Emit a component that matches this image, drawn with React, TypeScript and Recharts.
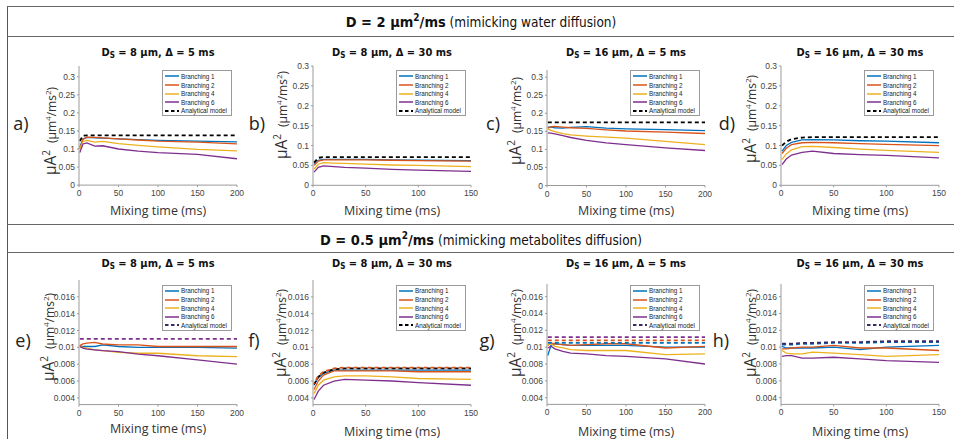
import React from 'react';
import { LineChart, Line, XAxis, YAxis } from 'recharts';

// mixing times (ms)
const T200 = [1, 5, 10, 20, 30, 50, 75, 100, 150, 200];
const T150 = [1, 5, 10, 20, 30, 50, 75, 100, 150];

const xTicks200 = [0, 50, 100, 150, 200];
const xTicks150 = [0, 50, 100, 150];

const yTicksWater = [0, 0.05, 0.1, 0.15, 0.2, 0.25, 0.3];
const yLabelsWater = ['0', '0.05', '0.1', '0.15', '0.2', '0.25', '0.3'];
const yTicksMetab = [0.004, 0.006, 0.008, 0.01, 0.012, 0.014, 0.016];
const yLabelsMetab = ['0.004', '0.006', '0.008', '0.01', '0.012', '0.014', '0.016'];

const seriesNames = ['Branching 1', 'Branching 2', 'Branching 4', 'Branching 6'];
const seriesColors = ['#0072BD', '#D95319', '#EDB120', '#7E2F8E'];

// a) D = 2, Ds = 8 um, delta = 5 ms
const aB1 = [0.105, 0.128, 0.132, 0.131, 0.13, 0.128, 0.126, 0.124, 0.122, 0.12];
const aB2 = [0.1, 0.127, 0.133, 0.132, 0.131, 0.128, 0.125, 0.122, 0.119, 0.114];
const aB4 = [0.1, 0.121, 0.124, 0.119, 0.121, 0.115, 0.11, 0.106, 0.099, 0.095];
const aB6 = [0.09, 0.114, 0.117, 0.108, 0.109, 0.1, 0.094, 0.09, 0.085, 0.073];
const aAn = [0.122, 0.137, 0.138, 0.138, 0.138, 0.138, 0.138, 0.138, 0.138, 0.138];

// b) D = 2, Ds = 8 um, delta = 30 ms
const bB1 = [0.052, 0.063, 0.065, 0.065, 0.065, 0.065, 0.064, 0.063, 0.062];
const bB2 = [0.05, 0.061, 0.064, 0.064, 0.064, 0.064, 0.063, 0.062, 0.061];
const bB4 = [0.041, 0.053, 0.057, 0.056, 0.055, 0.053, 0.051, 0.05, 0.047];
const bB6 = [0.033, 0.045, 0.049, 0.047, 0.045, 0.043, 0.04, 0.038, 0.035];
const bAn = [0.057, 0.069, 0.071, 0.071, 0.071, 0.071, 0.071, 0.071, 0.071];

// c) D = 2, Ds = 16 um, delta = 5 ms
const cB1 = [0.162, 0.162, 0.16, 0.159, 0.161, 0.163, 0.159, 0.157, 0.155, 0.152];
const cB2 = [0.159, 0.163, 0.164, 0.162, 0.16, 0.158, 0.154, 0.151, 0.148, 0.144];
const cB4 = [0.157, 0.153, 0.149, 0.144, 0.14, 0.137, 0.134, 0.131, 0.122, 0.113];
const cB6 = [0.146, 0.145, 0.143, 0.138, 0.133, 0.125, 0.118, 0.113, 0.104, 0.097];
const cAn = [0.175, 0.175, 0.175, 0.175, 0.175, 0.175, 0.175, 0.175, 0.175, 0.175];

// d) D = 2, Ds = 16 um, delta = 30 ms
const dB1 = [0.086, 0.1, 0.108, 0.114, 0.115, 0.114, 0.112, 0.111, 0.107];
const dB2 = [0.08, 0.093, 0.102, 0.107, 0.108, 0.107, 0.105, 0.103, 0.1];
const dB4 = [0.065, 0.079, 0.089, 0.097, 0.098, 0.095, 0.091, 0.088, 0.083];
const dB6 = [0.052, 0.066, 0.076, 0.083, 0.086, 0.08, 0.077, 0.075, 0.069];
const dAn = [0.1, 0.11, 0.116, 0.12, 0.121, 0.121, 0.121, 0.121, 0.121];

// e) D = 0.5, Ds = 8 um, delta = 5 ms
const eB1 = [0.0102, 0.0101, 0.0101, 0.0101, 0.0103, 0.0101, 0.01, 0.01, 0.01, 0.0099];
const eB2 = [0.0102, 0.0104, 0.0105, 0.0106, 0.0104, 0.0103, 0.0103, 0.0101, 0.0101, 0.0101];
const eB4 = [0.0101, 0.01, 0.0099, 0.0097, 0.0096, 0.0094, 0.0093, 0.0093, 0.009, 0.0089];
const eB6 = [0.0101, 0.0099, 0.0098, 0.0097, 0.0096, 0.0095, 0.0092, 0.009, 0.0085, 0.008];
const eAn = [0.011, 0.011, 0.011, 0.011, 0.011, 0.011, 0.011, 0.011, 0.011, 0.011];

// f) D = 0.5, Ds = 8 um, delta = 30 ms
const fB1 = [0.0055, 0.0064, 0.0069, 0.0073, 0.0073, 0.0073, 0.0073, 0.0073, 0.0073];
const fB2 = [0.005, 0.006, 0.0067, 0.0072, 0.0072, 0.0072, 0.0072, 0.0071, 0.0071];
const fB4 = [0.0045, 0.0055, 0.0061, 0.0065, 0.0066, 0.0066, 0.0065, 0.0063, 0.0062];
const fB6 = [0.0038, 0.0048, 0.0055, 0.006, 0.0062, 0.0061, 0.006, 0.0058, 0.0055];
const fAnOrange = [0.0057, 0.0066, 0.0071, 0.0075, 0.0076, 0.0076, 0.0076, 0.0076, 0.0076];
const fAn = [0.0056, 0.0065, 0.007, 0.0074, 0.0075, 0.0075, 0.0075, 0.0075, 0.0075];

// g) D = 0.5, Ds = 16 um, delta = 5 ms
const gB1 = [0.009, 0.0102, 0.0104, 0.0103, 0.0102, 0.0102, 0.0102, 0.0102, 0.01, 0.01];
const gB2 = [0.0102, 0.0105, 0.0104, 0.0103, 0.0102, 0.0103, 0.0104, 0.0104, 0.0099, 0.0101];
const gB4 = [0.0103, 0.0104, 0.0101, 0.0099, 0.0097, 0.0096, 0.0096, 0.0096, 0.0091, 0.0092];
const gB6 = [0.0099, 0.0101, 0.0098, 0.0095, 0.0093, 0.0092, 0.009, 0.0089, 0.0086, 0.008];
const gAnBlue = [0.0105, 0.0105, 0.0105, 0.0105, 0.0105, 0.0105, 0.0105, 0.0105, 0.0105, 0.0105];
const gAnOrange = [0.0108, 0.0108, 0.0108, 0.0108, 0.0108, 0.0108, 0.0108, 0.0108, 0.0108, 0.0108];
const gAnPurple = [0.0112, 0.0112, 0.0112, 0.0112, 0.0112, 0.0112, 0.0112, 0.0112, 0.0112, 0.0112];

// h) D = 0.5, Ds = 16 um, delta = 30 ms
const hB1 = [0.0101, 0.0099, 0.0099, 0.0099, 0.0099, 0.01, 0.0097, 0.01, 0.0102];
const hB2 = [0.0098, 0.0098, 0.0099, 0.01, 0.01, 0.0102, 0.0099, 0.0099, 0.0096];
const hB4 = [0.0096, 0.0093, 0.0092, 0.0092, 0.0094, 0.0093, 0.0091, 0.0089, 0.0091];
const hB6 = [0.0089, 0.009, 0.009, 0.0087, 0.0087, 0.0088, 0.0086, 0.0084, 0.0082];
const hAnBlue = [0.0103, 0.0103, 0.0103, 0.0104, 0.0104, 0.0105, 0.0105, 0.0106, 0.0106];
const hAnPurple = [0.0104, 0.0104, 0.0104, 0.0105, 0.0105, 0.0106, 0.0106, 0.0107, 0.0107];

type Analytical = { values: number[]; color: string; offset?: number };
type PanelCfg = {
  tag: string;
  title: [string, string];
  left: number;
  top: number;
  bottom: number;
  times: number[];
  xTicks: number[];
  yDomain: [number, number];
  yTicks: number[];
  yLabels: string[];
  series: number[][];
  analytical: Analytical[];
  legendDash: string;
  tagPos: [number, number];
  yLabelPos: [number, number];
  xLabelY: number;
};

const PLOT_W = 158;
const TOP_PAD = 8;
const RIGHT_PAD = 14;
const DARK_PURPLE = '#3a2a6c';

const panels: PanelCfg[] = [
  {
    tag: 'a)', title: ['8 µm', '5 ms'], left: 79, top: 65.9, bottom: 185, times: T200, xTicks: xTicks200,
    yDomain: [0, 0.33], yTicks: yTicksWater, yLabels: yLabelsWater,
    series: [aB1, aB2, aB4, aB6], analytical: [{ values: aAn, color: '#000' }], legendDash: '#000',
    tagPos: [21, 123], yLabelPos: [50, 131], xLabelY: 210,
  },
  {
    tag: 'b)', title: ['8 µm', '30 ms'], left: 313, top: 65.7, bottom: 185, times: T150, xTicks: xTicks150,
    yDomain: [0, 0.3], yTicks: yTicksWater, yLabels: yLabelsWater,
    series: [bB1, bB2, bB4, bB6], analytical: [{ values: bAn, color: '#000' }], legendDash: '#000',
    tagPos: [257, 123], yLabelPos: [281, 115], xLabelY: 210,
  },
  {
    tag: 'c)', title: ['16 µm', '5 ms'], left: 547, top: 69.5, bottom: 185, times: T200, xTicks: xTicks200,
    yDomain: [0, 0.32], yTicks: yTicksWater, yLabels: yLabelsWater,
    series: [cB1, cB2, cB4, cB6], analytical: [{ values: cAn, color: '#000' }], legendDash: '#000',
    tagPos: [493, 123], yLabelPos: [515, 121], xLabelY: 210,
  },
  {
    tag: 'd)', title: ['16 µm', '30 ms'], left: 781, top: 65.7, bottom: 185, times: T150, xTicks: xTicks150,
    yDomain: [0, 0.3], yTicks: yTicksWater, yLabels: yLabelsWater,
    series: [dB1, dB2, dB4, dB6], analytical: [{ values: dAn, color: '#000' }], legendDash: '#000',
    tagPos: [727, 123], yLabelPos: [750, 119], xLabelY: 210,
  },
  {
    tag: 'e)', title: ['8 µm', '5 ms'], left: 79, top: 279.9, bottom: 404.5, times: T200, xTicks: xTicks200,
    yDomain: [0.0032, 0.018], yTicks: yTicksMetab, yLabels: yLabelsMetab,
    series: [eB1, eB2, eB4, eB6], analytical: [{ values: eAn, color: '#7E2F8E' }], legendDash: DARK_PURPLE,
    tagPos: [23, 340], yLabelPos: [48, 337], xLabelY: 428,
  },
  {
    tag: 'f)', title: ['8 µm', '30 ms'], left: 313, top: 279.9, bottom: 404.5, times: T150, xTicks: xTicks150,
    yDomain: [0.0032, 0.018], yTicks: yTicksMetab, yLabels: yLabelsMetab,
    series: [fB1, fB2, fB4, fB6],
    analytical: [{ values: fAn, color: '#000' }, { values: fAnOrange, color: '#D95319', offset: 3 }],
    legendDash: '#000',
    tagPos: [254, 340], yLabelPos: [280, 333], xLabelY: 431,
  },
  {
    tag: 'g)', title: ['16 µm', '5 ms'], left: 547, top: 284.1, bottom: 404.5, times: T200, xTicks: xTicks200,
    yDomain: [0.0032, 0.0175], yTicks: yTicksMetab, yLabels: yLabelsMetab,
    series: [gB1, gB2, gB4, gB6],
    analytical: [
      { values: gAnBlue, color: '#0072BD' },
      { values: gAnOrange, color: '#D95319' },
      { values: gAnPurple, color: '#7E2F8E' },
    ],
    legendDash: DARK_PURPLE,
    tagPos: [487, 340], yLabelPos: [515, 333], xLabelY: 431,
  },
  {
    tag: 'h)', title: ['16 µm', '30 ms'], left: 781, top: 284.1, bottom: 404.5, times: T150, xTicks: xTicks150,
    yDomain: [0.0032, 0.0175], yTicks: yTicksMetab, yLabels: yLabelsMetab,
    series: [hB1, hB2, hB4, hB6],
    analytical: [
      { values: hAnBlue, color: '#0072BD' },
      { values: hAnPurple, color: DARK_PURPLE },
    ],
    legendDash: DARK_PURPLE,
    tagPos: [721, 340], yLabelPos: [750, 333], xLabelY: 431,
  },
];

const tickFont = "'Liberation Sans', Arial, sans-serif";
const labelFont = "'Open Sans', 'Liberation Sans', sans-serif";
const titleFont = "'DejaVu Sans Condensed', 'DejaVu Sans', sans-serif";

function LegendBox({ x, y, dash }: { x: number; y: number; dash: string }) {
  const items = seriesNames.map((n, i) => ({ n, c: seriesColors[i], dashed: false }));
  items.push({ n: 'Analytical model', c: dash, dashed: true });
  return (
    <div
      style={{
        position: 'absolute', left: x, top: y, width: 70, height: 46, background: '#fff',
        border: '1px solid #9a9a9a', boxSizing: 'border-box',
      }}
    >
      {items.map((it, i) => (
        <div key={it.n} style={{ position: 'absolute', left: 2, top: 1.4 + i * 8.6, height: 8, display: 'flex', alignItems: 'center' }}>
          <svg width={15} height={8}>
            <line x1={0} y1={4} x2={14} y2={4} stroke={it.c} strokeWidth={it.dashed ? 1.8 : 1.5}
              strokeDasharray={it.dashed ? '3.5 2.5' : undefined} />
          </svg>
          <span style={{ fontFamily: tickFont, fontSize: 6.3, color: '#222', marginLeft: 1, whiteSpace: 'nowrap' }}>{it.n}</span>
        </div>
      ))}
    </div>
  );
}

function Panel({ p }: { p: PanelCfg }) {
  const plotH = p.bottom - p.top;
  const rows = p.times.map((t, i) => {
    const r: Record<string, number> = { t };
    p.series.forEach((s, k) => { r['s' + k] = s[i]; });
    p.analytical.forEach((a, k) => { r['a' + k] = a.values[i]; });
    return r;
  });
  const fmt = (v: number) => {
    const k = p.yTicks.findIndex((t) => Math.abs(t - v) < 1e-9);
    return k >= 0 ? p.yLabels[k] : String(v);
  };
  const cx = p.left + PLOT_W / 2;
  const titleY = p.top < 200 ? 53 : 264;
  return (
    <>
      <div style={{ position: 'absolute', left: cx, top: titleY, transform: 'translate(-50%, -50%)', fontFamily: titleFont, fontWeight: 'bold', fontSize: 11, whiteSpace: 'nowrap', color: '#111' }}>
        D<sub style={{ fontSize: 8, verticalAlign: '-2px' }}>S</sub> = {p.title[0]}, Δ = {p.title[1]}
      </div>
      <div style={{ position: 'absolute', left: p.left - 40, top: p.top - TOP_PAD }}>
        <LineChart width={40 + PLOT_W + RIGHT_PAD} height={plotH + TOP_PAD + 20} data={rows}
          margin={{ top: TOP_PAD, right: RIGHT_PAD, bottom: 0, left: 0 }}>
          <XAxis dataKey="t" type="number" domain={[0, p.xTicks[p.xTicks.length - 1]]} ticks={p.xTicks} interval={0}
            height={20} allowDataOverflow stroke="#9a9a9a" tickSize={2} tickMargin={3}
            tick={{ fontSize: 8.5, fill: '#444', fontFamily: tickFont }} />
          <YAxis type="number" domain={p.yDomain} ticks={p.yTicks} interval={0} width={40} allowDataOverflow
            stroke="#9a9a9a" tickSize={2} tickMargin={2} tickFormatter={fmt}
            tick={{ fontSize: 8.5, fill: '#444', fontFamily: tickFont }} />
          {p.series.map((_, k) => (
            <Line key={'s' + k} dataKey={'s' + k} stroke={seriesColors[k]} strokeWidth={1.3} dot={false}
              isAnimationActive={false} type="linear" />
          ))}
          {p.analytical.map((a, k) => (
            <Line key={'a' + k} dataKey={'a' + k} stroke={a.color} strokeWidth={1.8} strokeDasharray="4 3"
              strokeDashoffset={a.offset ?? 0} dot={false} isAnimationActive={false} type="linear" />
          ))}
        </LineChart>
      </div>
      <LegendBox x={p.left + PLOT_W - 75} y={p.top < 200 ? 70 : 284.5} dash={p.legendDash} />
      <div style={{ position: 'absolute', left: cx, top: p.xLabelY, transform: 'translate(-50%, -50%)', fontFamily: labelFont, fontSize: 12.5, color: '#333', whiteSpace: 'nowrap' }}>
        Mixing time (ms)
      </div>
      <div style={{ position: 'absolute', left: p.yLabelPos[0], top: p.yLabelPos[1], transform: 'translate(-50%, -50%) rotate(-90deg)', fontFamily: labelFont, color: '#333', whiteSpace: 'nowrap' }}>
        <span style={{ fontSize: 15.5 }}>µA<sup style={{ fontSize: 10 }}>2</sup></span>
        <span style={{ fontSize: 12, marginLeft: 7 }}>(µm<sup style={{ fontSize: 8 }}>4</sup>/ms<sup style={{ fontSize: 8 }}>2</sup>)</span>
      </div>
      <div style={{ position: 'absolute', left: p.tagPos[0], top: p.tagPos[1], transform: 'translate(-50%, -50%)', fontFamily: labelFont, fontSize: 18, color: '#222' }}>
        {p.tag}
      </div>
    </>
  );
}

function HLine({ y }: { y: number }) {
  return <div style={{ position: 'absolute', left: 7, top: y, width: 947, height: 1.3, background: '#666' }} />;
}

export default function App() {
  return (
    <div style={{ position: 'absolute', left: 0, top: 0, width: 954, height: 439, background: '#fff', overflow: 'hidden' }}>
      <div style={{ position: 'absolute', left: 6.5, top: 6, width: 1.3, height: 433, background: '#555' }} />
      <HLine y={6} />
      <HLine y={36} />
      <HLine y={224} />
      <HLine y={252} />
      <div style={{ position: 'absolute', left: 481, top: 21, transform: 'translate(-50%, -50%)', fontFamily: titleFont, whiteSpace: 'nowrap', color: '#111' }}>
        <b style={{ fontSize: 14.5 }}>D = 2 µm<sup style={{ fontSize: 10 }}>2</sup>/ms</b>
        <span style={{ fontSize: 13.5 }}> (mimicking water diffusion)</span>
      </div>
      <div style={{ position: 'absolute', left: 481, top: 239, transform: 'translate(-50%, -50%)', fontFamily: titleFont, whiteSpace: 'nowrap', color: '#111' }}>
        <b style={{ fontSize: 14.5 }}>D = 0.5 µm<sup style={{ fontSize: 10 }}>2</sup>/ms</b>
        <span style={{ fontSize: 13.5 }}> (mimicking metabolites diffusion)</span>
      </div>
      {panels.map((p) => (
        <Panel key={p.tag} p={p} />
      ))}
    </div>
  );
}
